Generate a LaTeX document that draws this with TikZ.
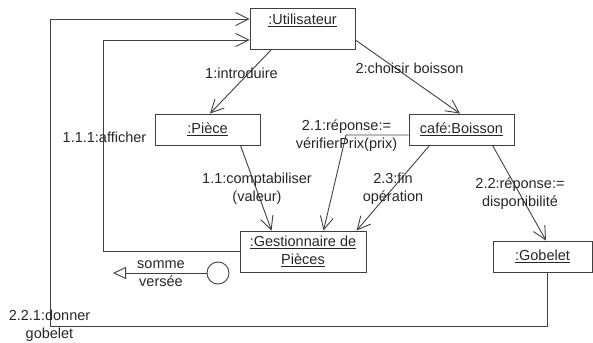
\documentclass[tikz,border=0pt]{standalone}
\usepackage{fontspec}
\setmainfont{Liberation Sans}
\usetikzlibrary{arrows.meta}
\begin{document}
\begin{tikzpicture}[x=1pt,y=-1pt,
  every node/.style={font=\fontsize{14.5}{18}\selectfont, text=black!85},
  obj/.style={draw=black!75, line width=0.9pt, inner sep=0pt},
  lbl/.style={inner sep=0pt, align=center},
  link/.style={draw=black!75, line width=0.9pt},
  msg/.style={link, -{Straight Barb[length=13pt,width=13pt,line width=0.9pt]}},
  ret/.style={link, -{Triangle[open,length=13pt,width=12pt,line width=0.9pt]}}]
\useasboundingbox (0,0) rectangle (593,342);

% objects
\node[obj, minimum width=105pt, minimum height=41pt] (u) at (302.5,28.5) {};
\node[lbl, anchor=north] (ut) at ([yshift=-6pt]u.north) {\underline{:Utilisateur}};
\node[obj, minimum width=105pt, minimum height=31pt] (p) at (207.5,129.5) {\underline{:Pièce}};
\node[obj, minimum width=105pt, minimum height=31pt] (b) at (461.5,129.5) {\underline{café:Boisson}};
\node[obj, minimum width=126pt, minimum height=41pt, align=center] (g) at (303,251.5)
  {\underline{:Gestionnaire de}\\\underline{Pièces}};
\node[obj, minimum width=99pt, minimum height=31pt] (gb) at (542.5,256.5) {\underline{:Gobelet}};

% port
\node[draw=black!75, line width=0.9pt, circle, minimum size=22pt, inner sep=0pt] (c) at (218,273) {};
\coordinate (out) at (113,273);

% messages
\draw[msg] ([xshift=22pt]u.south west) -- ([xshift=2.5pt]p.north);
\draw[msg] ([yshift=-11.5pt]u.east) -- ([xshift=-1.5pt]b.north);
\draw[msg] ([xshift=-20pt]p.south east) -- ([xshift=32pt]g.north west);
\draw[msg] ([yshift=-5.5pt]b.west) -- (346,135) -- ([xshift=84pt]g.north west);
\draw[msg] ([xshift=21pt]b.south west) -- ([xshift=117pt]g.north west);
\draw[msg] ([xshift=84pt]b.south west) -- ([xshift=3.5pt]gb.north);
\draw[msg] (g.west) -- (103,251.5) -- (103,40) -- ([yshift=-11.5pt]u.west);
\draw[msg] ([xshift=4.5pt]gb.south) -- (547,326) -- (50,326) -- (50,19) -- ([yshift=9.5pt]u.west);
\draw[ret] (c.west) -- (out);

% message labels
\node[lbl] (l1) at (241.5,73) {1:introduire};
\node[lbl] (l2) at (409.5,68) {2:choisir boisson};
\node[lbl] (l111) at (104.5,137) {1.1.1:afficher};
\node[lbl] (l21) at (346.5,136) {2.1:réponse:=\\vérifierPrix(prix)};
\node[lbl] (l11) at (257,189) {1.1:comptabiliser\\(valeur)};
\node[lbl] (l23) at (393,189) {2.3:fin\\opération};
\node[lbl] (l22) at (520,194) {2.2:réponse:=\\disponibilité};
\node[lbl] (ls) at (161,274) {somme\\versée};
\node[lbl] (l221) at (49.5,326) {2.2.1:donner\\gobelet};
\end{tikzpicture}
\end{document}
